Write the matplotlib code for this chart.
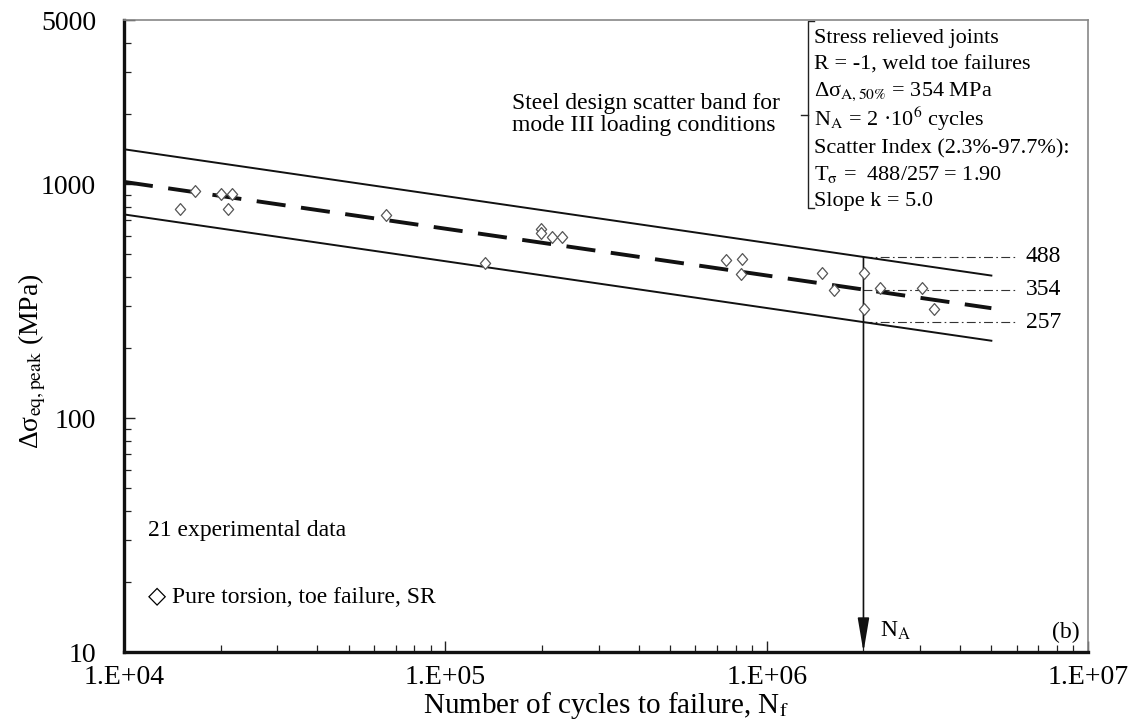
import numpy as np
import matplotlib
matplotlib.use("Agg")
import matplotlib.pyplot as plt
from matplotlib.path import Path
from matplotlib.ticker import LogLocator, NullFormatter, FixedLocator

plt.rcParams['font.family'] = ['Liberation Serif', 'DejaVu Sans']
plt.rcParams['mathtext.fontset'] = 'stix'

# Experimental results: pure torsion, toe failure, stress relieved
cycles = [1.49e4, 1.66e4, 2.00e4, 2.17e4, 2.11e4, 6.53e4, 1.33e5,
          1.99e5, 1.99e5, 2.15e5, 2.31e5, 7.45e5, 8.39e5, 8.30e5,
          1.49e6, 1.62e6, 2.01e6, 2.01e6, 2.25e6, 3.04e6, 3.32e6]
stress = [780, 933, 904, 904, 780, 735, 458,
          640, 615, 596, 596, 473, 476, 412,
          418, 352, 418, 291, 361, 361, 291]

# Scatter band parameters
N_A = 2e6
band_levels = [488, 354, 257]   # 2.3%, 50%, 97.7% survival at N_A
slope_k = 5.0
band_range = [1e4, 5e6]

x_ticks = [1e4, 1e5, 1e6, 1e7]
x_ticklabels = ['1.E+04', '1.E+05', '1.E+06', '1.E+07']
y_ticks = [10, 100, 1000, 5000]
y_ticklabels = ['10', '100', '1000', '5000']

fig = plt.figure(figsize=(11.37, 7.26), dpi=100)
ax = fig.add_axes([0.109, 0.1019, 0.848, 0.8699])
ax.set_xscale('log')
ax.set_yscale('log')
ax.set_xlim(1e4, 1e7)
ax.set_ylim(10, 5000)

# Scatter band lines
Nb = np.array(band_range)
for lvl, ls in zip(band_levels, ['-', '--', '-']):
    s = lvl * (Nb / N_A) ** (-1.0 / slope_k)
    if ls == '--':
        ax.plot(Nb, s, color='#111111', lw=2.8, dashes=(7.5, 4.0),
                solid_capstyle='butt', zorder=2)
    else:
        ax.plot(Nb, s, color='#111111', lw=1.4, zorder=2)

# Reference levels at N_A
for lvl in band_levels:
    ax.plot([N_A, 6.0e6], [lvl, lvl], color='#333333', lw=0.8,
            dashes=(8, 3, 1.5, 3), zorder=1)
    ax.text(6.4e6, lvl, str(lvl), fontsize=17, va='center', ha='left')

# Vertical arrow at N_A
ax.annotate('', xy=(N_A, 10), xytext=(N_A, band_levels[0]),
            arrowprops=dict(arrowstyle='-|>,head_length=1.3,head_width=0.22',
                            mutation_scale=16, color='#111111', lw=1.2,
                            shrinkA=0, shrinkB=0))
ax.text(2.25e6, 12.3, r'N$_\mathrm{A}$', fontsize=17, va='center', ha='left')

# Data points
diamond = Path([(0, 1), (0.87, 0), (0, -1), (-0.87, 0), (0, 1)],
               [Path.MOVETO, Path.LINETO, Path.LINETO, Path.LINETO, Path.CLOSEPOLY])
ax.plot(cycles, stress, linestyle='none', marker=diamond, markersize=8.5,
        markerfacecolor='white', markeredgecolor='#555555', markeredgewidth=0.9,
        zorder=3)

# Axis styling
for side in ['left', 'bottom']:
    ax.spines[side].set_linewidth(2.4)
    ax.spines[side].set_color('#111111')
for side in ['top', 'right']:
    ax.spines[side].set_linewidth(1.2)
    ax.spines[side].set_color('#888888')

ax.xaxis.set_major_locator(FixedLocator(x_ticks))
ax.set_xticklabels(x_ticklabels)
ax.xaxis.set_minor_locator(LogLocator(base=10, subs=np.arange(2, 10)))
ax.xaxis.set_minor_formatter(NullFormatter())
ax.yaxis.set_major_locator(FixedLocator(y_ticks))
ax.set_yticklabels(y_ticklabels)
ax.yaxis.set_minor_locator(LogLocator(base=10, subs=np.arange(2, 10)))
ax.yaxis.set_minor_formatter(NullFormatter())
ax.tick_params(which='both', direction='in', top=False, right=False,
               labelsize=20, color='#222222')
ax.tick_params(axis='x', which='both', pad=9)
ax.tick_params(axis='y', which='both', pad=20)
ax.tick_params(which='major', length=8, width=1.0)
ax.tick_params(which='minor', length=5, width=0.9)

ax.set_xlabel(r'Number of cycles to failure, N$_\mathrm{f}$', fontsize=21, labelpad=0)
ax.set_ylabel('\u0394\u03c3$_\\mathrm{eq,peak}$ (MPa)', fontsize=20)
ax.yaxis.set_label_coords(-0.079, 0.46)

# Annotations
ax.text(0.4025, 0.8512, 'Steel design scatter band for\nmode III loading conditions',
        transform=ax.transAxes, fontsize=17, va='center', ha='left', linespacing=1.05)

box_lines = ['Stress relieved joints',
             'R = -1, weld toe failures',
             '\u0394\u03c3$_{\\mathrm{A,50\\%}}$ = 354 MPa',
             'N$_\\mathrm{A}$ = 2 \u00b710$^{6}$ cycles',
             'Scatter Index (2.3%-97.7%):',
             'T$_{\\mathrm{\u03c3}}$ =  488/257 = 1.90',
             'Slope k = 5.0']
baselines_px = [43, 70, 96, 126, 154, 180, 206]
for line, yb in zip(box_lines, baselines_px):
    ax.text((814 - 124) / 964, (652 - yb) / 631.5, line, transform=ax.transAxes,
            fontsize=16, va='baseline', ha='left')

# Bracket grouping the box text
bx = (808 - 124) / 964
bt = (652 - 21.5) / 631.5
bb = (652 - 208) / 631.5
bm = (652 - 115) / 631.5
kw = dict(transform=ax.transAxes, color='#222222', lw=1.0, clip_on=False)
ax.plot([bx + 6 / 964, bx, bx, bx + 6 / 964], [bt, bt, bb, bb], **kw)
ax.plot([bx - 7 / 964, bx], [bm, bm], **kw)

ax.text((148 - 124) / 964, (652 - 530) / 631.5, '21 experimental data',
        transform=ax.transAxes, fontsize=17, va='center', ha='left')
ax.text((148 - 124) / 964, (652 - 597) / 631.5, '\u25c7 Pure torsion, toe failure, SR',
        transform=ax.transAxes, fontsize=17, va='center', ha='left')
ax.text((1080 - 124) / 964, (652 - 632) / 631.5, '(b)', transform=ax.transAxes,
        fontsize=17, va='center', ha='right')

fig.savefig('out.png', dpi=100)
